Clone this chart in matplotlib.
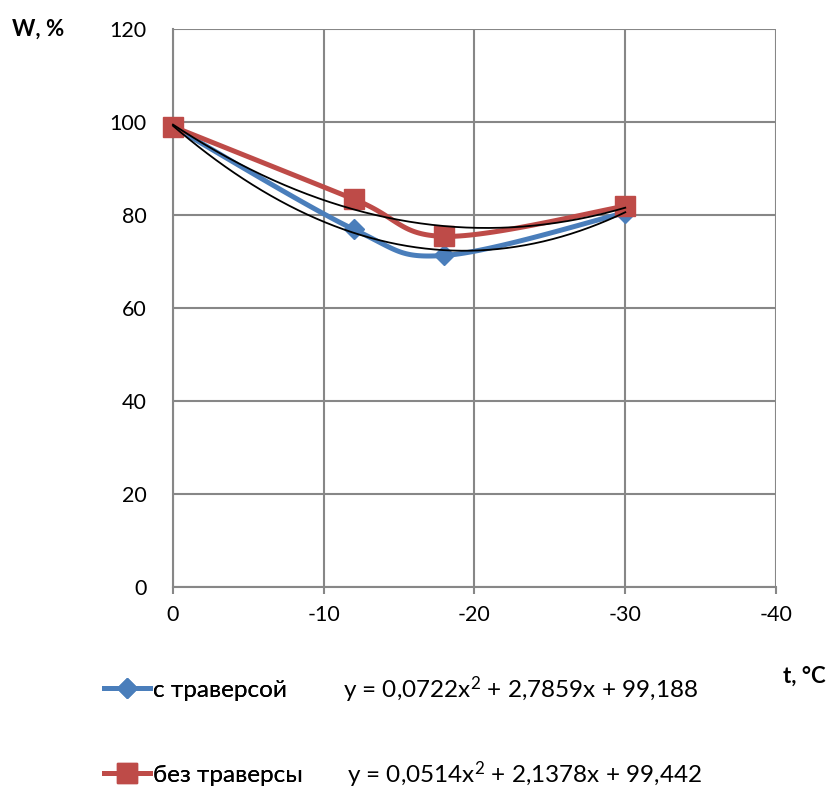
import numpy as np
import matplotlib
matplotlib.use("Agg")
import matplotlib.pyplot as plt
from matplotlib.lines import Line2D

plt.rcParams['font.family'] = ['Lato', 'Open Sans', 'DejaVu Sans']
plt.rcParams['mathtext.fontset'] = 'custom'
plt.rcParams['mathtext.rm'] = 'Lato'
plt.rcParams['mathtext.it'] = 'Lato'
plt.rcParams['mathtext.bf'] = 'Lato:bold'

# Temperature, °C and moisture retention W, %
t = [0, -12, -18, -30]
w_with = [99.0, 76.9, 71.3, 80.5]       # с траверсой
w_without = [99.0, 83.4, 75.4, 81.9]    # без траверсы

# quadratic trend coefficients (a, b, c) for y = a*x^2 + b*x + c
trend_with = (0.0722, 2.7859, 99.188)
trend_without = (0.0514, 2.1378, 99.442)

label_with = "с траверсой"
label_without = "без траверсы"
eq_with = r"y = 0,0722x$^\mathrm{2}$ + 2,7859x + 99,188"
eq_without = r"y = 0,0514x$^\mathrm{2}$ + 2,1378x + 99,442"

x_ticks = [0, -10, -20, -30, -40]
y_ticks = [0, 20, 40, 60, 80, 100, 120]

BLUE = "#4a7ebb"
RED = "#be4b48"
GRID = "#878787"


def smooth(xs, ys, n=40):
    """Cubic Bezier smoothing through the points (control points at 1/6 of the neighbour chord)."""
    P = np.column_stack([xs, ys]).astype(float)
    m = len(P)
    out = []
    for i in range(m - 1):
        p0 = P[i - 1] if i > 0 else P[i]
        p1 = P[i]
        p2 = P[i + 1]
        p3 = P[i + 2] if i + 2 < m else P[i + 1]
        c1 = p1 + (p2 - p0) / 6.0
        c2 = p2 - (p3 - p1) / 6.0
        s = np.linspace(0, 1, n)[:, None]
        seg = ((1 - s) ** 3) * p1 + 3 * ((1 - s) ** 2) * s * c1 + 3 * (1 - s) * s ** 2 * c2 + s ** 3 * p2
        out.append(seg if i == 0 else seg[1:])
    pts = np.vstack(out)
    return pts[:, 0], pts[:, 1]


fig = plt.figure(figsize=(8.26, 7.91), dpi=100)
ax = fig.add_axes([173 / 826, 1 - 587 / 791, (776 - 173) / 826, (587 - 29) / 791])

# series lines (smoothed) and markers
sx, sy = smooth(t, w_with)
ax.plot(sx, sy, color=BLUE, lw=3.6, solid_capstyle='round', zorder=3, clip_on=False)
ax.plot(t, w_with, ls='none', marker='D', ms=10, color=BLUE, zorder=3, clip_on=False)

sx, sy = smooth(t, w_without)
ax.plot(sx, sy, color=RED, lw=3.6, solid_capstyle='round', zorder=4, clip_on=False)
ax.plot(t, w_without, ls='none', marker='s', ms=14, color=RED, zorder=4, clip_on=False)

# polynomial trend lines
xx = np.linspace(min(t), max(t), 200)
for a, b, c in (trend_with, trend_without):
    ax.plot(xx, a * xx ** 2 + b * xx + c, color='black', lw=1.3, zorder=5, clip_on=False)

ax.set_xlim(0, -40)
ax.set_ylim(0, 120)
ax.set_xticks(x_ticks)
ax.set_xticklabels([str(v) for v in x_ticks])
ax.set_yticks(y_ticks)
ax.set_yticklabels([str(v) for v in y_ticks])
ax.grid(True, color=GRID, lw=1.5)
ax.set_axisbelow(True)
for side in ('top', 'right'):
    ax.spines[side].set_visible(False)
for side in ('left', 'bottom'):
    ax.spines[side].set_color(GRID)
    ax.spines[side].set_linewidth(1.5)
ax.tick_params(axis='x', length=5, width=1.5, color=GRID, labelsize=15.5, pad=8)
ax.tick_params(axis='y', length=0, labelsize=15.5, pad=19)

fig.text(12 / 826, 1 - 29 / 791, "W, %", fontsize=16, fontweight='bold', va='center', ha='left')
fig.text(826 / 826, 1 - 676 / 791, "t, °C", fontsize=16, fontweight='bold', va='center', ha='right')

# legend: one entry per row, each followed by its trend equation
rows = [
    (Line2D([], [], color=BLUE, lw=3.6, marker='D', ms=10), label_with, 690, eq_with, 343),
    (Line2D([], [], color=RED, lw=3.6, marker='s', ms=14), label_without, 775, eq_without, 347),
]
for handle, label, yrow, eq, xeq in rows:
    leg = fig.legend([handle], [label], loc='center left',
                     bbox_to_anchor=(104 / 826, 1 - yrow / 791), frameon=False,
                     fontsize=17.5, handlelength=1.9, handletextpad=0.1,
                     borderpad=0, borderaxespad=0)
    fig.add_artist(leg)
    fig.text(xeq / 826, 1 - yrow / 791, eq, fontsize=17.5, va='center', ha='left')

fig.savefig("out.png", dpi=100)
